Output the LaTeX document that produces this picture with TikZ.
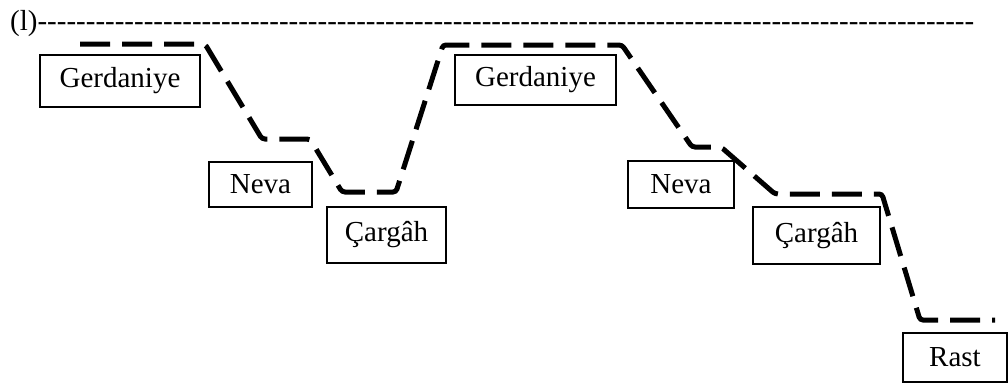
\documentclass[tikz,border=0pt]{standalone}
\usepackage{fontspec}
\setmainfont{Liberation Serif}
% a row of plain hyphens, each boxed so no dash ligature forms
\makeatletter
\newcommand\hyphenrow[1]{\ifnum#1>0 \mbox{-}\expandafter\hyphenrow\expandafter{\the\numexpr#1-1\relax}\fi}
\makeatother
\tikzset{
  notebox/.style={draw, line width=1.5pt, inner sep=0pt, font=\fontsize{29}{34}\selectfont},
  contour/.style={line width=5pt, dash pattern=on 30pt off 12pt, rounded corners=3pt}
}
\begin{document}
\begin{tikzpicture}[x=1pt,y=-1pt]
\useasboundingbox (0,0) rectangle (1008,383);

% reference line
\node[anchor=base west, inner sep=0pt, font=\fontsize{29}{34}\selectfont] (ref) at (10,30) {(l)\hyphenrow{97}};

% note boxes
\node[notebox, minimum width=160pt, minimum height=52pt] (g1) at (120,81) {Gerdaniye};
\node[notebox, minimum width=103pt, minimum height=45pt] (n1) at (260.5,184.5) {Neva};
\node[notebox, minimum width=119pt, minimum height=56pt] (c1) at (386.5,235) {Çargâh};
\node[notebox, minimum width=161pt, minimum height=50pt] (g2) at (535.5,80) {Gerdaniye};
\node[notebox, minimum width=106pt, minimum height=47pt] (n2) at (681,184.5) {Neva};
\node[notebox, minimum width=127pt, minimum height=57pt] (c2) at (816.5,235.5) {Çargâh};
\node[notebox, minimum width=104pt, minimum height=49pt] (r) at (955,357.5) {Rast};

% melodic contour
\draw[contour] (80,44) -- (205,44) -- (262,139) -- (310,139) -- (342,192) -- (396,192)
  -- (443,45) -- (622,45) -- (692,147) -- (721,147) -- (775,194) -- (882,194)
  -- (920,320) -- (995,320);
\end{tikzpicture}
\end{document}
